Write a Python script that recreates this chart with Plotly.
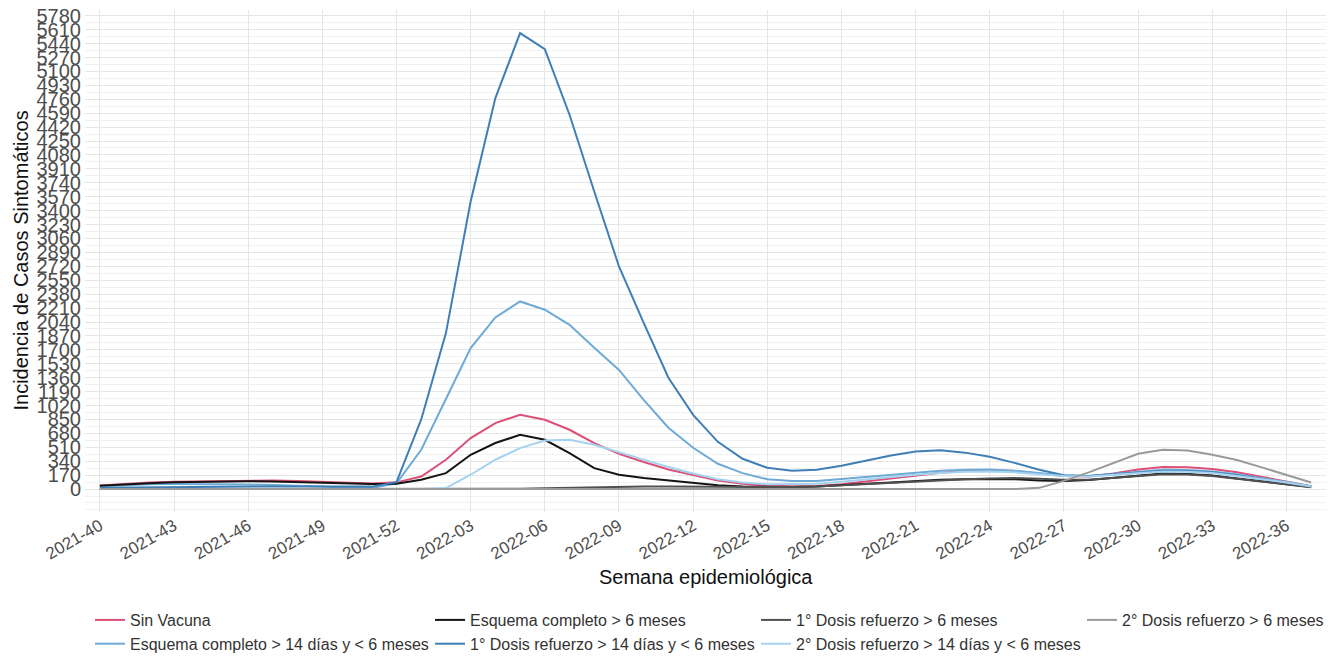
import plotly.graph_objects as go

weeks = [f"2021-{w:02d}" for w in range(40, 53)] + [f"2022-{w:02d}" for w in range(1, 38)]
tick_labels = [weeks[i] for i in range(0, 49, 3)]
y_ticks = list(range(0, 5781, 170))

sin_vacuna = [45, 65, 80, 90, 95, 100, 108, 105, 98, 88, 72, 68, 82, 154, 358, 623, 806, 907, 846, 724,
              562, 430, 330, 240, 170, 105, 65, 40, 35, 38, 60, 95, 134, 170, 200, 220, 230, 220, 190, 160,
              155, 190, 240, 270, 265, 245, 205, 150, 95, 35]
esq_mas6 = [40, 58, 72, 82, 88, 92, 95, 92, 86, 78, 66, 62, 66, 114, 195, 419, 562, 663, 602, 440,
            256, 175, 135, 105, 73, 48, 32, 24, 24, 32, 52, 66, 81, 100, 115, 121, 125, 120, 105, 100,
            110, 135, 165, 190, 185, 165, 130, 95, 60, 24]
esq_14d = [35, 50, 58, 62, 62, 60, 56, 50, 42, 30, 15, 12, 70, 480, 1100, 1722, 2096, 2291, 2190, 2006,
           1725, 1455, 1090, 749, 504, 309, 195, 120, 100, 100, 122, 150, 178, 205, 225, 235, 240, 225, 195, 165,
           160, 185, 215, 235, 232, 215, 180, 135, 85, 35]
ref1_14d = [15, 18, 22, 25, 28, 30, 32, 32, 30, 28, 25, 30, 85, 850, 1905, 3512, 4775, 5568, 5373, 4571,
            3634, 2718, 2030, 1360, 906, 577, 370, 260, 224, 236, 284, 345, 410, 460, 475, 445, 395, 320, 235, 170,
            160, 180, 205, 225, 222, 205, 170, 125, 80, 30]
ref1_mas6 = [0, 0, 0, 0, 0, 0, 0, 0, 0, 0, 0, 0, 0, 0, 0, 1, 2, 5, 10, 15,
             25, 30, 30, 30, 28, 25, 22, 22, 25, 30, 45, 60, 75, 95, 110, 120, 130, 135, 125, 115,
             115, 135, 160, 180, 178, 160, 125, 90, 55, 22]
ref2_14d = [0, 0, 0, 0, 0, 0, 0, 0, 0, 0, 0, 0, 0, 0, 12, 175, 358, 500, 594, 602,
            541, 455, 360, 270, 190, 120, 80, 60, 60, 65, 90, 120, 150, 175, 195, 210, 215, 205, 180, 160,
            155, 175, 200, 215, 212, 195, 160, 120, 80, 30]
ref2_mas6 = [0, 0, 0, 0, 0, 0, 0, 0, 0, 0, 0, 0, 0, 0, 0, 0, 0, 0, 0, 0,
             0, 0, 0, 0, 0, 0, 0, 0, 0, 0, 0, 0, 0, 0, 0, 0, 0, 0, 15, 100,
             204, 320, 431, 480, 470, 420, 355, 265, 175, 80]

series = [
    ("Sin Vacuna", sin_vacuna, "#dc4f76", "legend"),
    ("Esquema completo > 14 días y < 6 meses", esq_14d, "#6eaad6", "legend"),
    ("Esquema completo > 6 meses", esq_mas6, "#141414", "legend2"),
    ("1° Dosis refuerzo > 14 días y < 6 meses", ref1_14d, "#3f7fb6", "legend2"),
    ("1° Dosis refuerzo > 6 meses", ref1_mas6, "#505050", "legend3"),
    ("2° Dosis refuerzo > 14 días y < 6 meses", ref2_14d, "#a3d3ef", "legend3"),
    ("2° Dosis refuerzo > 6 meses", ref2_mas6, "#9a9a9a", "legend4"),
]

fig = go.Figure()
for name, vals, color, lg in series:
    fig.add_trace(go.Scatter(x=weeks, y=vals, mode="lines", name=name,
                             line=dict(color=color, width=2), legend=lg))

# the page body adds an 8px offset, so the figure is laid out 8px smaller
OFF = 8
W, H = 1342 - OFF, 656 - OFF
L, R = 84.5 - OFF, 1326 - OFF
T, B = 10.4 - OFF, 512.2 - OFF
PH = B - T
PW = R - L

legend_common = dict(orientation="v", xref="container", yref="container", xanchor="left", yanchor="top",
                     font=dict(family="Liberation Sans, Arial", size=16, color="#333333"),
                     bgcolor="rgba(0,0,0,0)", borderwidth=0, tracegroupgap=0)
col_x = [82, 422, 748, 1074]
ytop = 1 - 595 / H

fig.update_layout(
    width=W, height=H,
    margin=dict(l=L, r=W - R, t=T, b=H - B, autoexpand=False),
    plot_bgcolor="white", paper_bgcolor="white",
    font=dict(family="Liberation Sans, Arial", color="#4d4d4d"),
    showlegend=True,
    legend=dict(x=col_x[0] / W, y=ytop, **legend_common),
    legend2=dict(x=col_x[1] / W, y=ytop, **legend_common),
    legend3=dict(x=col_x[2] / W, y=ytop, **legend_common),
    legend4=dict(x=col_x[3] / W, y=ytop, **legend_common),
    xaxis=dict(
        type="category", categoryorder="array", categoryarray=weeks,
        range=[-0.6, len(weeks) - 0.4],
        tickmode="array", tickvals=tick_labels, ticktext=tick_labels,
        tickangle=-30, tickfont=dict(size=17, color="#4d4d4d"), ticklabeloverflow="allow",
        showgrid=True, gridcolor="#e6e6e6", gridwidth=1,
        ticks="", showline=False, zeroline=False,
    ),
    yaxis=dict(
        range=[-280, 5850],
        tickmode="array", tickvals=y_ticks, ticktext=[str(v) for v in y_ticks],
        tickfont=dict(size=20, color="#4d4d4d"), ticklabelstandoff=3, ticklabeloverflow="allow",
        showgrid=True, gridcolor="#e6e6e6", gridwidth=1,
        minor=dict(dtick=85, tick0=0, showgrid=True, gridcolor="#f2f2f2", gridwidth=0.6),
        ticks="", showline=False, zeroline=False,
    ),
    annotations=[
        dict(text="Semana epidemiológica", xref="paper", yref="paper",
             x=0.5, y=(B - (577 - OFF)) / PH, xanchor="center", yanchor="middle", showarrow=False,
             font=dict(size=20, color="#111111", family="Liberation Sans, Arial")),
        dict(text="Incidencia de Casos Sintomáticos", xref="paper", yref="paper",
             x=((20 - OFF) - L) / PW, y=0.5, xanchor="center", yanchor="middle", showarrow=False, textangle=-90,
             font=dict(size=20, color="#111111", family="Liberation Sans, Arial")),
    ],
)

fig.write_html("out.html")
